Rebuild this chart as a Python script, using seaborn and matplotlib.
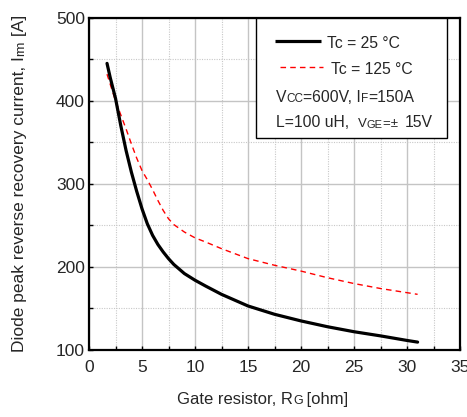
import numpy as np
import pandas as pd
import matplotlib
matplotlib.use("Agg")
import matplotlib.pyplot as plt
import seaborn as sns
from matplotlib.ticker import MultipleLocator
from matplotlib.patches import Rectangle

# ---- data ----
rg = [1.7, 2, 2.5, 3, 3.5, 4, 4.5, 5, 5.5, 6, 6.5, 7, 7.5, 8, 9, 10, 11,
      12.5, 15, 17.5, 20, 22.5, 25, 27.5, 30, 31]
irm_25 = [445, 428, 403, 370, 340, 314, 291, 270, 252, 238, 227, 218, 210,
          203, 192, 184, 177, 167, 153, 143, 135, 128, 122, 117, 111.5, 109.5]
irm_125 = [432, 420, 400, 383, 366, 348, 331, 316, 305, 293, 280, 268, 258,
           251, 242, 235, 230, 222, 210, 202, 195, 187, 180, 174, 169, 167]
x_ticks = [0, 5, 10, 15, 20, 25, 30, 35]
y_ticks = [100, 200, 300, 400, 500]

df = pd.DataFrame({"rg": rg, "t25": irm_25, "t125": irm_125})

sns.set_style("white")
plt.rcParams["font.family"] = ["Liberation Sans", "DejaVu Sans"]

fig = plt.figure(figsize=(4.67, 4.17), dpi=100)
ax = fig.add_axes([89 / 467, 1 - 350 / 417, 371 / 467, (350 - 17.7) / 417])

sns.lineplot(data=df, x="rg", y="t125", ax=ax, color="#ff0000",
             linewidth=1.0, estimator=None, sort=False, zorder=3)
ax.lines[-1].set_dashes((4, 3))
sns.lineplot(data=df, x="rg", y="t25", ax=ax, color="black",
             linewidth=2.3, estimator=None, sort=False, zorder=4)
ax.lines[-1].set_solid_joinstyle("round")

ax.set_xlim(0, 35)
ax.set_ylim(100, 500)
ax.set_xticks(x_ticks)
ax.set_yticks(y_ticks)
ax.xaxis.set_minor_locator(MultipleLocator(2.5))
ax.yaxis.set_minor_locator(MultipleLocator(50))
ax.grid(which="major", color="#c4c4c4", linewidth=1.0, linestyle="-")
ax.grid(which="minor", color="#c8c8c8", linewidth=0.8, linestyle=(0, (1, 1.2)))
ax.set_axisbelow(True)
ax.tick_params(which="both", direction="in", length=3, width=1,
               color="black", left=True, bottom=True)
ax.tick_params(axis="x", labelsize=12.5, pad=7)
ax.tick_params(axis="y", labelsize=12.5, pad=3)
for s in ax.spines.values():
    s.set_visible(True)
    s.set_color("black")
    s.set_linewidth(1.6)
ax.set_xlabel("")
ax.set_ylabel("")


def chain(parts, x, y, transform, rotation=0):
    """Draw consecutive text pieces [(text, size), ...] next to each other."""
    first, size = parts[0]
    if rotation == 0:
        t = fig.text(x, y, first, fontsize=size, ha="left", va="baseline",
                     transform=transform)
    else:
        t = fig.text(x, y, first, fontsize=size, ha="right", va="bottom",
                     rotation=90, transform=transform)
    for txt, sz in parts[1:]:
        if rotation == 0:
            t = ax.annotate(txt, xy=(1, 0), xycoords=t, fontsize=sz,
                            ha="left", va="bottom", annotation_clip=False)
        else:
            t = ax.annotate(txt, xy=(1, 1), xycoords=t, fontsize=sz,
                            ha="right", va="bottom", rotation=90,
                            annotation_clip=False)
    return t


# x label: "Gate resistor, RG [ohm]"
chain([("Gate resistor, R", 12), ("G", 9), (" [ohm]", 12)],
      177 / 467, 1 - 404 / 417, fig.transFigure)
# y label
chain([("Diode peak reverse recovery current, I", 12.5), ("rm", 9.5),
       (" [A]", 12.5)],
      27 / 467, 1 - 352 / 417, fig.transFigure, rotation=90)

# legend box
ax.add_patch(Rectangle((0.450, 0.638), 0.515, 0.362, transform=ax.transAxes,
                       facecolor="white", edgecolor="black", linewidth=1.0,
                       zorder=5, clip_on=False))
ax.plot([0.501, 0.625], [0.930, 0.930], transform=ax.transAxes,
        color="black", linewidth=2.3, zorder=6, solid_capstyle="butt")
l2, = ax.plot([0.515, 0.631], [0.851, 0.851], transform=ax.transAxes,
              color="#ff0000", linewidth=1.0, zorder=6)
l2.set_dashes((4, 3))

ls = 11.3
for txt, x0, yb in [("Tc = 25 \u00b0C", 0.641, 48.3),
                    ("Tc = 125 \u00b0C", 0.651, 74.3)]:
    ax.text(x0, (350 - yb) / 332.3, txt, transform=ax.transAxes,
            fontsize=ls, ha="left", va="baseline", zorder=7)

t = ax.text(0.504, (350 - 101.7) / 332.3, "V", transform=ax.transAxes,
            fontsize=ls, ha="left", va="baseline", zorder=7)
for txt, sz in [("CC", 8.5), ("=600V, I", ls), ("F", 8.5), ("=150A", ls)]:
    t = ax.annotate(txt, xy=(1, 0), xycoords=t, fontsize=sz, ha="left",
                    va="bottom", zorder=7, annotation_clip=False)

t = ax.text(0.504, (350 - 127.3) / 332.3, "L=100 uH,  ", transform=ax.transAxes,
            fontsize=ls, ha="left", va="baseline", zorder=7)
for txt, sz in [("V", 9.5), ("GE", 8.0), ("=\u00b1  ", 9.5), ("15V", ls)]:
    t = ax.annotate(txt, xy=(1, 0), xycoords=t, fontsize=sz, ha="left",
                    va="bottom", zorder=7, annotation_clip=False)

fig.savefig("out.png", dpi=100)
